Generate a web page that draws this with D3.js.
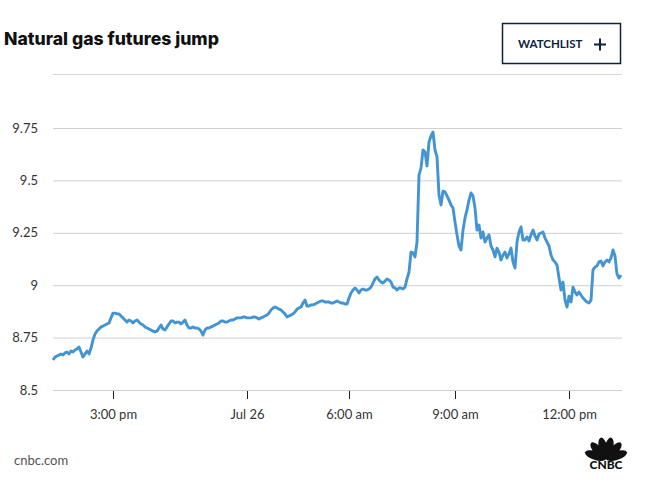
<!doctype html>
<html lang="en">
  <head>
    <meta charset="utf-8">
    <script src="https://d3js.org/d3.v7.min.js"></script>
    <title>Natural gas futures jump</title>
    <style>
      body { margin: 0; background: #fff; }
      svg { display: block; font-family: Lato, "Open Sans", sans-serif; }
    </style>
  </head>
  <body>
    <div id="chart"></div>
    <script type="text/javascript">

      // Price of the natural gas future, one reading every sample step
      const values = [
        8.643, 8.657, 8.662, 8.667, 8.672, 8.667, 8.677, 8.681, 8.672, 8.686,
        8.681, 8.691, 8.696, 8.705, 8.681, 8.657, 8.672, 8.686, 8.672, 8.700,
        8.739, 8.767, 8.781, 8.791, 8.801, 8.805, 8.810, 8.815, 8.820, 8.844,
        8.867, 8.867, 8.863, 8.863, 8.853, 8.844, 8.834, 8.824, 8.834, 8.829,
        8.820, 8.829, 8.834, 8.824, 8.815, 8.810, 8.801, 8.796, 8.791, 8.786,
        8.781, 8.777, 8.781, 8.796, 8.810, 8.791, 8.786, 8.801, 8.815, 8.829,
        8.829, 8.820, 8.824, 8.824, 8.815, 8.824, 8.834, 8.810, 8.796, 8.796,
        8.801, 8.796, 8.796, 8.791, 8.781, 8.762, 8.786, 8.796, 8.796, 8.801,
        8.805, 8.810, 8.815, 8.820, 8.829, 8.829, 8.824, 8.824, 8.829, 8.834,
        8.834, 8.839, 8.844, 8.844, 8.844, 8.848, 8.848, 8.844, 8.844, 8.844,
        8.848, 8.848, 8.844, 8.839, 8.844, 8.848, 8.853, 8.858, 8.867, 8.882,
        8.891, 8.896, 8.891, 8.886, 8.882, 8.872, 8.863, 8.848, 8.853, 8.858,
        8.863, 8.872, 8.886, 8.891, 8.896, 8.915, 8.929, 8.901, 8.901, 8.906,
        8.906, 8.910, 8.915, 8.920, 8.925, 8.925, 8.920, 8.920, 8.920, 8.915,
        8.915, 8.920, 8.925, 8.920, 8.915, 8.915, 8.910, 8.910, 8.939, 8.963,
        8.977, 8.987, 8.977, 8.963, 8.977, 8.982, 8.977, 8.977, 8.982, 8.991,
        9.010, 9.030, 9.039, 9.025, 9.015, 9.010, 9.020, 9.030, 9.025, 9.015,
        8.991, 8.987, 8.977, 8.987, 8.987, 8.982, 8.991, 9.030, 9.063, 9.158,
        9.154, 9.135, 9.206, 9.526, 9.559, 9.645, 9.636, 9.569, 9.683, 9.712,
        9.731, 9.645, 9.612, 9.430, 9.383, 9.449, 9.445, 9.426, 9.406, 9.383,
        9.368, 9.302, 9.240, 9.187, 9.168, 9.263, 9.321, 9.359, 9.406, 9.440,
        9.426, 9.368, 9.263, 9.287, 9.225, 9.254, 9.206, 9.225, 9.240, 9.187,
        9.168, 9.135, 9.177, 9.158, 9.120, 9.144, 9.158, 9.130, 9.149, 9.177,
        9.111, 9.082, 9.206, 9.254, 9.278, 9.216, 9.216, 9.230, 9.211, 9.240,
        9.263, 9.235, 9.216, 9.244, 9.249, 9.254, 9.225, 9.206, 9.187, 9.144,
        9.120, 9.111, 9.096, 9.034, 8.977, 9.015, 8.929, 8.896, 8.948, 8.920,
        8.991, 8.968, 8.953, 8.968, 8.953, 8.939, 8.929, 8.920, 8.915, 8.929,
        9.073, 9.087, 9.092, 9.111, 9.115, 9.092, 9.111, 9.120, 9.111, 9.130,
        9.168, 9.139, 9.053, 9.034, 9.049
      ];

      // x axis: sample index where each label sits
      const tickIndex  = [30, 97, 148, 201, 258];
      const tickLabels = ["3:00 pm", "Jul 26", "6:00 am", "9:00 am", "12:00 pm"];

      // y axis
      const yTicks = [8.5, 8.75, 9, 9.25, 9.5, 9.75];

      const W = 646, H = 482;
      const margin = {top: 128, right: 24, bottom: 92, left: 53};

      const svg = d3.select("#chart").append("svg")
          .attr("width", W)
          .attr("height", H);

      // Title
      svg.append("text")
          .attr("x", 4).attr("y", 45)
          .style("font-family", "Inter, Lato, sans-serif")
          .style("font-size", "17.6px")
          .style("font-weight", "800")
          .style("fill", "#111")
          .text("Natural gas futures jump");

      // Watchlist button
      const btn = svg.append("g");
      btn.append("rect")
          .attr("x", 502.5).attr("y", 23.5)
          .attr("width", 118).attr("height", 40)
          .style("fill", "none")
          .style("stroke", "#0c2340")
          .style("stroke-width", 1.5);
      btn.append("text")
          .attr("x", 518).attr("y", 48)
          .style("font-size", "11.5px")
          .style("font-weight", "700")
          .style("fill", "#0c2340")
          .text("WATCHLIST");
      btn.append("path")
          .attr("d", "M594,44.5H606M600,38.5V50.5")
          .style("stroke", "#0c2340")
          .style("stroke-width", 2);

      // separator under the header
      svg.append("line")
          .attr("x1", margin.left).attr("x2", W - margin.right)
          .attr("y1", 74.5).attr("y2", 74.5)
          .style("stroke", "#d6d6d6");

      const x = d3.scaleLinear()
          .domain([0, values.length - 1])
          .range([margin.left, 621]);

      const y = d3.scaleLinear()
          .domain([8.5, 9.75])
          .range([H - margin.bottom, margin.top]);

      // Grid + y labels
      const yAxis = svg.append("g")
          .attr("transform", "translate(" + margin.left + ",0)")
          .call(d3.axisLeft(y)
            .tickValues(yTicks)
            .tickSize(-(W - margin.right - margin.left))
            .tickPadding(15)
            .tickFormat(d => String(d)));
      yAxis.select(".domain").remove();
      yAxis.selectAll(".tick line").style("stroke", "#d0d0d0");
      yAxis.selectAll(".tick text")
          .style("font-size", "13px")
          .style("fill", "#333")
          .style("font-family", "Lato, sans-serif");

      // x axis
      const xAxis = svg.append("g")
          .attr("transform", "translate(0," + (H - margin.bottom + 1) + ")")
          .call(d3.axisBottom(x)
            .tickValues(tickIndex)
            .tickSize(8)
            .tickPadding(11)
            .tickFormat((d, i) => tickLabels[i]));
      xAxis.select(".domain").remove();
      xAxis.selectAll(".tick line").style("stroke", "#222");
      xAxis.selectAll(".tick text")
          .style("font-size", "13px")
          .style("fill", "#333")
          .style("font-family", "Lato, sans-serif");

      // price line
      const line = d3.line()
          .x((d, i) => x(i))
          .y(d => y(d))
          .curve(d3.curveLinear);

      svg.append("path")
          .datum(values)
          .attr("d", line)
          .style("fill", "none")
          .style("stroke", "#4394d3")
          .style("stroke-width", 2.9)
          .style("stroke-linejoin", "round");

      // footer
      svg.append("text")
          .attr("x", 14).attr("y", 465)
          .style("font-size", "13px")
          .style("fill", "#555")
          .text("cnbc.com");

      // CNBC peacock
      const logo = svg.append("g").attr("transform", "translate(606,459)");
      const feathers = [-72, -43, -14, 14, 43, 72];
      logo.selectAll("ellipse")
        .data(feathers)
        .enter()
        .append("ellipse")
          .attr("cx", 0).attr("cy", -11)
          .attr("rx", 4.4).attr("ry", 11)
          .attr("transform", d => "rotate(" + d + ")")
          .style("fill", "#111");
      logo.append("text")
          .attr("x", 0).attr("y", 10)
          .attr("text-anchor", "middle")
          .style("font-size", "12px")
          .style("font-weight", "900")
          .style("fill", "#111")
          .text("CNBC");
    </script>
  </body>
</html>
